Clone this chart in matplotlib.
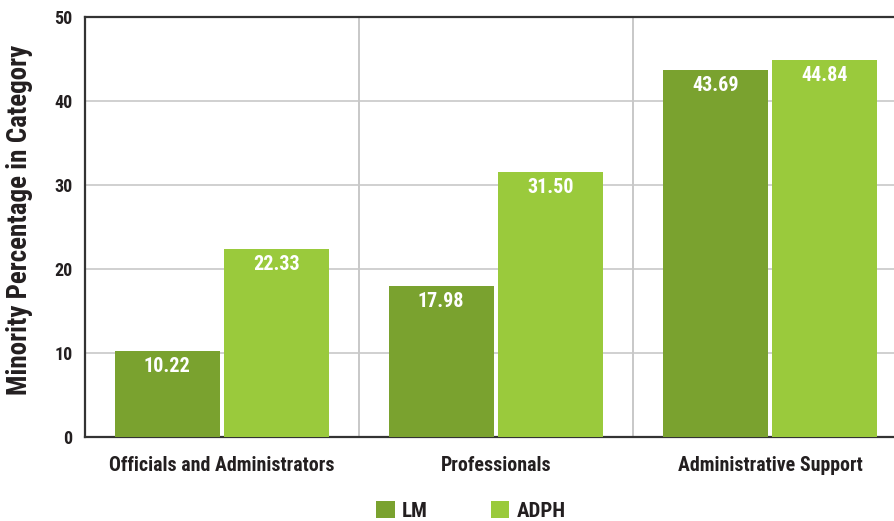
import matplotlib
matplotlib.use("Agg")
import matplotlib.pyplot as plt
from matplotlib import font_manager
import numpy as np

categories = ["Officials and Administrators", "Professionals", "Administrative Support"]
lm_values = [10.22, 17.98, 43.69]
adph_values = [22.33, 31.50, 44.84]
series_names = ["LM", "ADPH"]
y_ticks = [0, 10, 20, 30, 40, 50]

names = sorted({f.name for f in font_manager.fontManager.ttflist})
cands = ["Roboto Condensed", "Liberation Sans Narrow", "DejaVu Sans Condensed", "Open Sans Condensed", "Roboto"]
main = next((c for c in cands if c in names), "DejaVu Sans")
plt.rcParams["font.family"] = [main, "DejaVu Sans"]

W, H = 895, 521
fig = plt.figure(figsize=(W / 100, H / 100), dpi=100)
left, right, bottom, top = 85, 907, 521 - 437, 521 - 17
ax = fig.add_axes([left / W, bottom / H, (right - left) / W, (top - bottom) / H])

c_lm = "#7aa22f"
c_adph = "#9aca3c"
txt = "#231f20"

x = np.arange(len(categories))
bw = 0.383
off = 0.2
b1 = ax.bar(x - off, lm_values, bw, color=c_lm, zorder=3, label=series_names[0])
b2 = ax.bar(x + off, adph_values, bw, color=c_adph, zorder=3, label=series_names[1])

for bars, vals in ((b1, lm_values), (b2, adph_values)):
    for b, v in zip(bars, vals):
        ax.text(b.get_x() + b.get_width() / 2, v - 0.7, f"{v:.2f}", ha="center", va="top",
                color="white", fontsize=14.5, fontweight="bold", zorder=4)

ax.set_xlim(-0.5, len(categories) - 0.5)
ax.set_ylim(0, 50)
ax.set_yticks(y_ticks)
ax.set_yticklabels([str(t) for t in y_ticks], fontsize=13, fontweight="bold", color=txt)
ax.tick_params(axis="y", length=0, pad=9)
ax.set_xticks(x)
ax.set_xticklabels(categories, fontsize=14.3, fontweight="bold", color=txt)
ax.tick_params(axis="x", length=0, pad=14)

ax.set_xticks(np.arange(len(categories) - 1) + 0.5, minor=True)
ax.grid(axis="x", which="minor", color="#bfbfbf", linewidth=1.2, zorder=0)
ax.grid(axis="y", which="major", color="#c8c8c8", linewidth=1.2, zorder=0)
ax.tick_params(axis="x", which="minor", length=0)

for s in ("left", "bottom", "top"):
    ax.spines[s].set_color("#333333")
    ax.spines[s].set_linewidth(1.6)
ax.spines["right"].set_visible(False)

ylab = fig.text(20 / W, 1 - 220 / H, "Minority Percentage in Category", rotation=90, ha="center", va="center",
                fontsize=17, fontweight="bold", color=txt)

leg = fig.legend(handles=[b1, b2], labels=series_names, loc="center", bbox_to_anchor=(471 / W, 1 - 511 / H),
                 ncol=2, frameon=False, prop={"size": 15, "weight": "bold"}, handlelength=0.9, handleheight=0.9,
                 columnspacing=3.0, handletextpad=0.35)
for t in leg.get_texts():
    t.set_color(txt)

# fit the axis title length to the reference
fig.canvas.draw()
r = fig.canvas.get_renderer()
bb = ylab.get_window_extent(r)
if bb.height > 0:
    ylab.set_fontsize(ylab.get_fontsize() * 350 / bb.height)

fig.savefig("out.png", dpi=100)
